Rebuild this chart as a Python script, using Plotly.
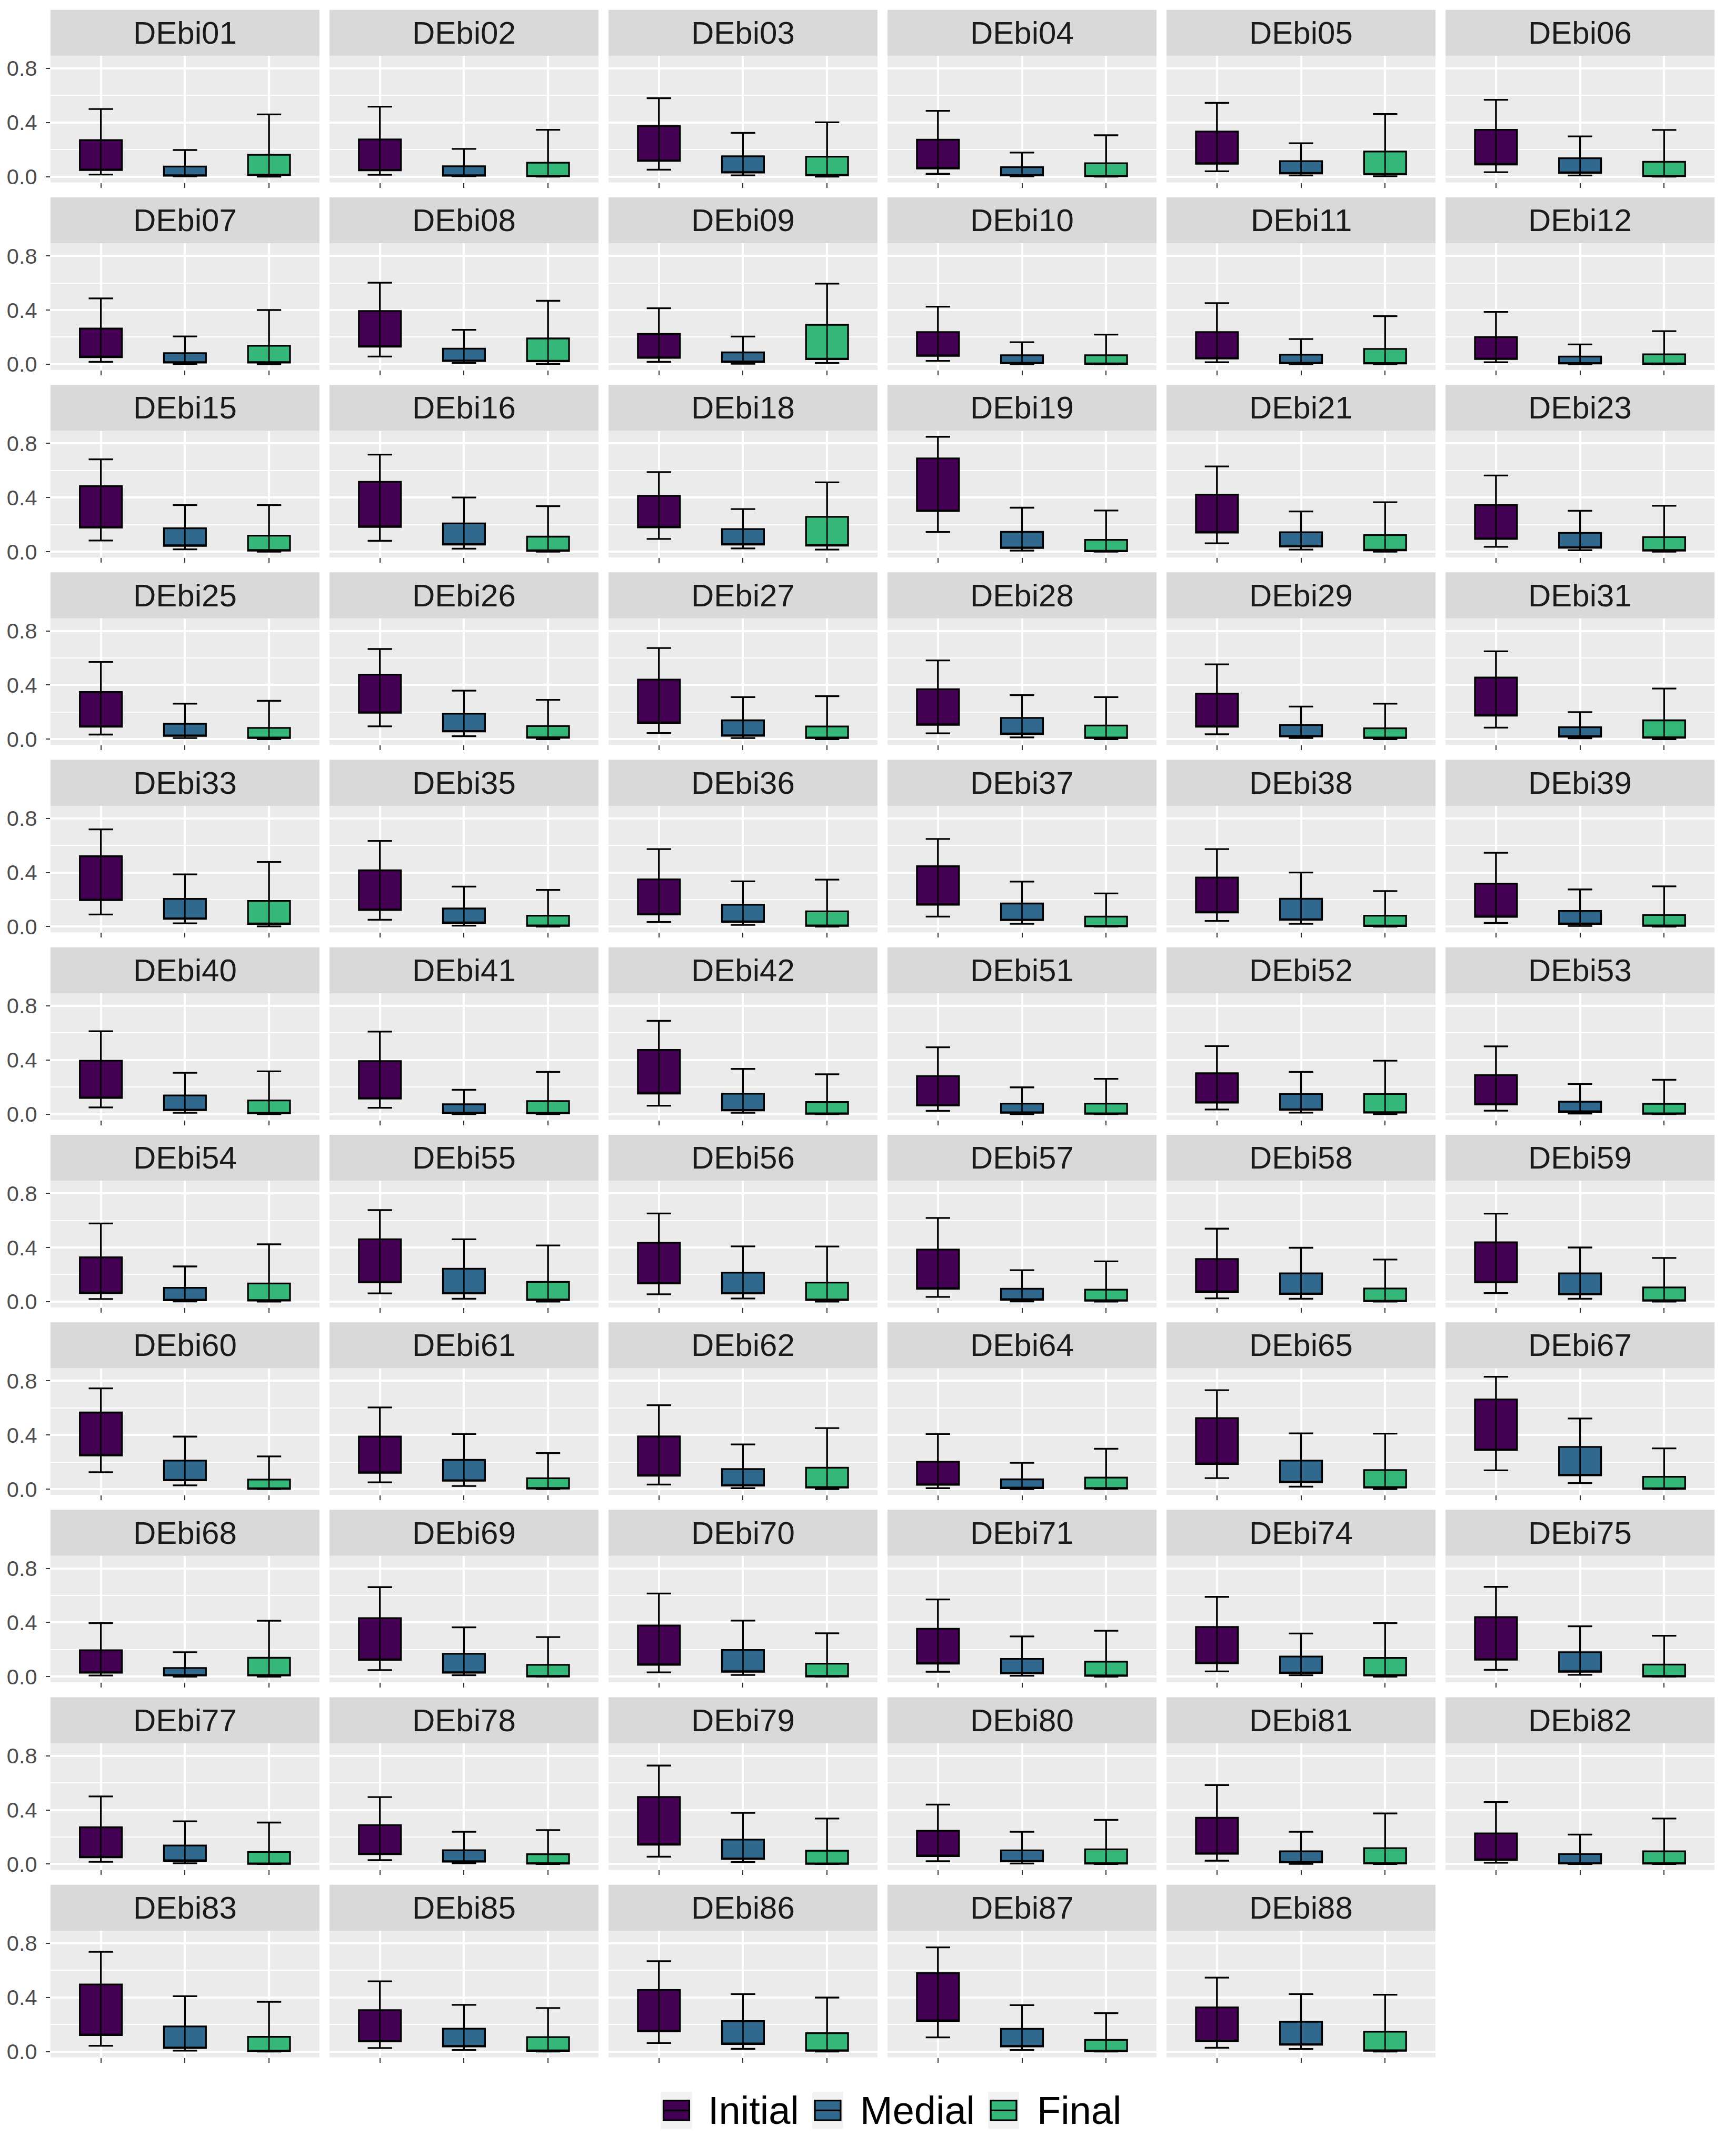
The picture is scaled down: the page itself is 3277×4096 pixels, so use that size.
import plotly.graph_objects as go

# ---------------- data ----------------
panels = ["DEbi01", "DEbi02", "DEbi03", "DEbi04", "DEbi05", "DEbi06",
          "DEbi07", "DEbi08", "DEbi09", "DEbi10", "DEbi11", "DEbi12",
          "DEbi15", "DEbi16", "DEbi18", "DEbi19", "DEbi21", "DEbi23",
          "DEbi25", "DEbi26", "DEbi27", "DEbi28", "DEbi29", "DEbi31",
          "DEbi33", "DEbi35", "DEbi36", "DEbi37", "DEbi38", "DEbi39",
          "DEbi40", "DEbi41", "DEbi42", "DEbi51", "DEbi52", "DEbi53",
          "DEbi54", "DEbi55", "DEbi56", "DEbi57", "DEbi58", "DEbi59",
          "DEbi60", "DEbi61", "DEbi62", "DEbi64", "DEbi65", "DEbi67",
          "DEbi68", "DEbi69", "DEbi70", "DEbi71", "DEbi74", "DEbi75",
          "DEbi77", "DEbi78", "DEbi79", "DEbi80", "DEbi81", "DEbi82",
          "DEbi83", "DEbi85", "DEbi86", "DEbi87", "DEbi88"]

groups = ["Initial", "Medial", "Final"]
group_colors = ["#440154", "#31688E", "#35B779"]

initial_low = [0.016, 0.014, 0.052, 0.021, 0.040, 0.033, 0.017, 0.056, 0.017, 0.024, 0.014, 0.014,
               0.082, 0.080, 0.094, 0.145, 0.062, 0.036, 0.034, 0.095, 0.045, 0.043, 0.036, 0.085,
               0.090, 0.051, 0.034, 0.074, 0.042, 0.027, 0.050, 0.047, 0.062, 0.024, 0.034, 0.025,
               0.019, 0.061, 0.054, 0.035, 0.024, 0.063, 0.125, 0.050, 0.034, 0.007, 0.081, 0.139,
               0.008, 0.048, 0.031, 0.036, 0.038, 0.050, 0.017, 0.029, 0.055, 0.022, 0.025, 0.010,
               0.043, 0.026, 0.063, 0.105, 0.028]
initial_q1 = [0.049, 0.047, 0.117, 0.061, 0.096, 0.090, 0.052, 0.129, 0.047, 0.061, 0.042, 0.038,
              0.178, 0.183, 0.180, 0.300, 0.141, 0.094, 0.092, 0.195, 0.120, 0.106, 0.092, 0.174,
              0.196, 0.123, 0.090, 0.162, 0.104, 0.072, 0.120, 0.115, 0.152, 0.064, 0.085, 0.071,
              0.063, 0.142, 0.134, 0.095, 0.072, 0.142, 0.249, 0.120, 0.099, 0.032, 0.185, 0.289,
              0.029, 0.124, 0.087, 0.096, 0.099, 0.125, 0.050, 0.073, 0.143, 0.059, 0.076, 0.031,
              0.122, 0.075, 0.150, 0.227, 0.078]
initial_q3 = [0.270, 0.275, 0.374, 0.273, 0.334, 0.346, 0.263, 0.393, 0.223, 0.237, 0.237, 0.200,
              0.484, 0.516, 0.413, 0.689, 0.421, 0.344, 0.348, 0.477, 0.440, 0.369, 0.337, 0.455,
              0.520, 0.416, 0.349, 0.446, 0.363, 0.317, 0.395, 0.392, 0.474, 0.281, 0.302, 0.288,
              0.327, 0.461, 0.435, 0.385, 0.315, 0.438, 0.566, 0.388, 0.389, 0.202, 0.525, 0.663,
              0.195, 0.432, 0.378, 0.353, 0.367, 0.440, 0.272, 0.288, 0.496, 0.246, 0.342, 0.227,
              0.496, 0.306, 0.455, 0.580, 0.327]
initial_high = [0.500, 0.517, 0.580, 0.486, 0.545, 0.568, 0.486, 0.602, 0.413, 0.425, 0.451, 0.386,
                0.682, 0.717, 0.588, 0.849, 0.630, 0.563, 0.570, 0.666, 0.673, 0.582, 0.553, 0.649,
                0.719, 0.633, 0.573, 0.648, 0.573, 0.546, 0.612, 0.610, 0.689, 0.494, 0.503, 0.501,
                0.577, 0.676, 0.651, 0.618, 0.539, 0.650, 0.744, 0.603, 0.620, 0.407, 0.731, 0.830,
                0.395, 0.661, 0.614, 0.570, 0.589, 0.663, 0.500, 0.495, 0.728, 0.440, 0.584, 0.458,
                0.737, 0.519, 0.668, 0.770, 0.546]

medial_low = [0.002, 0.003, 0.010, 0.002, 0.009, 0.009, 0.002, 0.009, 0.003, 0.000, 0.000, 0.000,
              0.017, 0.022, 0.024, 0.008, 0.015, 0.011, 0.008, 0.022, 0.008, 0.013, 0.008, 0.006,
              0.025, 0.007, 0.013, 0.021, 0.021, 0.005, 0.010, 0.000, 0.010, 0.000, 0.011, 0.004,
              0.001, 0.021, 0.023, 0.001, 0.021, 0.021, 0.028, 0.023, 0.007, 0.000, 0.018, 0.044,
              0.000, 0.010, 0.012, 0.006, 0.010, 0.013, 0.006, 0.006, 0.015, 0.004, 0.001, 0.000,
              0.007, 0.012, 0.020, 0.012, 0.019]
medial_q1 = [0.007, 0.007, 0.030, 0.009, 0.024, 0.028, 0.012, 0.023, 0.016, 0.007, 0.007, 0.005,
             0.043, 0.052, 0.052, 0.027, 0.038, 0.029, 0.024, 0.057, 0.025, 0.038, 0.020, 0.018,
             0.058, 0.027, 0.035, 0.048, 0.051, 0.020, 0.029, 0.008, 0.027, 0.010, 0.032, 0.017,
             0.010, 0.060, 0.060, 0.014, 0.056, 0.053, 0.065, 0.062, 0.026, 0.007, 0.051, 0.102,
             0.008, 0.029, 0.036, 0.024, 0.027, 0.036, 0.024, 0.018, 0.038, 0.020, 0.013, 0.004,
             0.026, 0.038, 0.056, 0.038, 0.051]
medial_q3 = [0.075, 0.077, 0.151, 0.070, 0.115, 0.136, 0.082, 0.115, 0.087, 0.066, 0.070, 0.056,
             0.173, 0.209, 0.167, 0.146, 0.144, 0.139, 0.113, 0.188, 0.139, 0.157, 0.104, 0.088,
             0.205, 0.134, 0.162, 0.171, 0.206, 0.116, 0.138, 0.073, 0.151, 0.078, 0.149, 0.092,
             0.102, 0.243, 0.214, 0.095, 0.209, 0.209, 0.211, 0.216, 0.148, 0.072, 0.211, 0.312,
             0.064, 0.169, 0.197, 0.131, 0.148, 0.180, 0.137, 0.102, 0.181, 0.101, 0.094, 0.074,
             0.186, 0.169, 0.225, 0.168, 0.220]
medial_high = [0.197, 0.205, 0.324, 0.178, 0.247, 0.298, 0.205, 0.254, 0.204, 0.162, 0.186, 0.146,
               0.344, 0.400, 0.315, 0.325, 0.297, 0.302, 0.262, 0.358, 0.311, 0.325, 0.241, 0.200,
               0.386, 0.296, 0.335, 0.333, 0.400, 0.275, 0.305, 0.180, 0.334, 0.198, 0.312, 0.223,
               0.260, 0.461, 0.408, 0.232, 0.398, 0.400, 0.388, 0.407, 0.330, 0.194, 0.412, 0.522,
               0.180, 0.364, 0.414, 0.297, 0.318, 0.372, 0.316, 0.239, 0.379, 0.239, 0.239, 0.218,
               0.409, 0.345, 0.425, 0.343, 0.425]

final_low = [0.000, 0.000, 0.000, 0.000, 0.003, 0.000, 0.000, 0.002, 0.009, 0.000, 0.000, 0.000,
             0.000, 0.000, 0.015, 0.000, 0.000, 0.000, 0.000, 0.000, 0.000, 0.000, 0.000, 0.000,
             0.002, 0.000, 0.000, 0.000, 0.000, 0.000, 0.000, 0.000, 0.000, 0.000, 0.000, 0.000,
             0.000, 0.000, 0.000, 0.000, 0.000, 0.000, 0.000, 0.000, 0.000, 0.000, 0.000, 0.000,
             0.000, 0.000, 0.000, 0.000, 0.000, 0.000, 0.000, 0.000, 0.000, 0.000, 0.000, 0.000,
             0.000, 0.000, 0.000, 0.000, 0.000]
final_q1 = [0.012, 0.003, 0.010, 0.003, 0.017, 0.003, 0.012, 0.021, 0.037, 0.002, 0.005, 0.002,
            0.008, 0.006, 0.045, 0.003, 0.010, 0.008, 0.008, 0.010, 0.008, 0.008, 0.008, 0.010,
            0.020, 0.005, 0.005, 0.002, 0.004, 0.005, 0.006, 0.006, 0.002, 0.002, 0.011, 0.002,
            0.008, 0.012, 0.012, 0.007, 0.003, 0.007, 0.002, 0.004, 0.011, 0.004, 0.011, 0.002,
            0.008, 0.001, 0.001, 0.005, 0.008, 0.001, 0.001, 0.003, 0.001, 0.003, 0.004, 0.003,
            0.003, 0.005, 0.006, 0.002, 0.006]
final_q3 = [0.162, 0.103, 0.148, 0.099, 0.186, 0.110, 0.136, 0.190, 0.291, 0.066, 0.113, 0.073,
            0.118, 0.111, 0.257, 0.087, 0.122, 0.108, 0.083, 0.097, 0.094, 0.101, 0.080, 0.139,
            0.190, 0.081, 0.113, 0.074, 0.081, 0.086, 0.101, 0.096, 0.089, 0.078, 0.149, 0.076,
            0.134, 0.146, 0.141, 0.088, 0.097, 0.105, 0.071, 0.080, 0.158, 0.085, 0.141, 0.091,
            0.139, 0.087, 0.096, 0.110, 0.138, 0.089, 0.090, 0.073, 0.099, 0.109, 0.118, 0.094,
            0.109, 0.107, 0.136, 0.086, 0.147]
final_high = [0.460, 0.346, 0.402, 0.306, 0.463, 0.345, 0.400, 0.468, 0.595, 0.219, 0.355, 0.244,
              0.344, 0.336, 0.512, 0.304, 0.365, 0.339, 0.283, 0.290, 0.318, 0.311, 0.262, 0.374,
              0.478, 0.271, 0.347, 0.245, 0.263, 0.298, 0.316, 0.312, 0.295, 0.261, 0.395, 0.254,
              0.424, 0.415, 0.407, 0.297, 0.311, 0.323, 0.242, 0.266, 0.451, 0.298, 0.410, 0.301,
              0.413, 0.292, 0.320, 0.339, 0.395, 0.302, 0.307, 0.251, 0.337, 0.327, 0.374, 0.337,
              0.368, 0.322, 0.399, 0.284, 0.420]

y_tickvals = [0.0, 0.4, 0.8]
y_ticktext = ["0.0", "0.4", "0.8"]
y_minor_vals = [0.2, 0.6]

# In the picture the median line sits on the lower hinge of every box,
# so the lower hinge values are used for the median as well.
stats = {
    "Initial": (initial_low, initial_q1, initial_q3, initial_high),
    "Medial": (medial_low, medial_q1, medial_q3, medial_high),
    "Final": (final_low, final_q1, final_q3, final_high),
}

# ---------------- layout geometry (pixels of the 3277x4096 page) ----------------
W, H = 3277, 4096
NCOL = 6
COL_LEFT0, COL_PITCH, PANEL_W = 95.8, 530.06, 511.06
STRIP_TOP0, ROW_PITCH, STRIP_H, PANEL_H = 18.84, 357.33, 87.66, 241.2
FONT = "Liberation Sans, Arial, Helvetica, sans-serif"


def px_x(x):
    return x / W


def px_y(y):
    return 1 - y / H


fig = go.Figure()
shapes = []
annotations = []
layout_axes = {}

for k, name in enumerate(panels):
    r, c = divmod(k, NCOL)
    left = COL_LEFT0 + c * COL_PITCH
    right = left + PANEL_W
    s_top = STRIP_TOP0 + r * ROW_PITCH
    p_top = s_top + STRIP_H
    p_bot = p_top + PANEL_H

    xa = "x" if k == 0 else f"x{k + 1}"
    ya = "y" if k == 0 else f"y{k + 1}"
    xkey = "xaxis" if k == 0 else f"xaxis{k + 1}"
    ykey = "yaxis" if k == 0 else f"yaxis{k + 1}"

    for g, grp in enumerate(groups):
        lo, q1, q3, hi = stats[grp]
        fig.add_trace(go.Box(
            x=[g + 1], q1=[q1[k]], median=[q1[k]], q3=[q3[k]],
            lowerfence=[lo[k]], upperfence=[hi[k]],
            width=0.5, whiskerwidth=0.58,
            fillcolor=group_colors[g],
            line=dict(color="black", width=3.3),
            boxpoints=False, name=grp, showlegend=False, hoverinfo="skip",
            xaxis=xa, yaxis=ya,
        ))
    # whisker line running through the box (drawn on top, like the reference)
    lows = [stats[grp][0][k] for grp in groups]
    highs = [stats[grp][3][k] for grp in groups]
    fig.add_trace(go.Scatter(
        x=[1, 2, 3], y=lows, mode="markers",
        marker=dict(size=1, color="rgba(0,0,0,0)"),
        error_y=dict(type="data", symmetric=False,
                     array=[h - l for h, l in zip(highs, lows)],
                     arrayminus=[0, 0, 0], width=0, thickness=2.6, color="black"),
        showlegend=False, hoverinfo="skip", xaxis=xa, yaxis=ya,
    ))

    layout_axes[xkey] = dict(
        domain=[px_x(left), px_x(right)], anchor=ya,
        range=[0.4, 3.6], tickmode="array", tickvals=[1, 2, 3], ticktext=["", "", ""],
        ticks="outside", ticklen=9, tickwidth=1.8, tickcolor="#333333",
        showgrid=True, gridcolor="white", gridwidth=3.5,
        zeroline=False, showline=False, fixedrange=True,
    )
    layout_axes[ykey] = dict(
        domain=[px_y(p_bot), px_y(p_top)], anchor=xa,
        range=[-0.0425, 0.8925], tickmode="array", tickvals=y_tickvals, ticktext=y_ticktext,
        showticklabels=(c == 0), ticks="outside" if c == 0 else "",
        ticklen=8, tickwidth=1.8, tickcolor="#333333",
        tickfont=dict(size=41.5, color="#4D4D4D", family=FONT),
        ticklabelstandoff=8,
        showgrid=True, gridcolor="white", gridwidth=3.5,
        minor=dict(tickmode="array", tickvals=y_minor_vals, showgrid=True,
                   gridcolor="white", gridwidth=1.7, ticks=""),
        zeroline=False, showline=False, fixedrange=True,
    )

    # facet strip
    shapes.append(dict(type="rect", xref="paper", yref="paper",
                       x0=px_x(left), x1=px_x(right), y0=px_y(p_top), y1=px_y(s_top),
                       fillcolor="#D9D9D9", line=dict(width=0), layer="below"))
    annotations.append(dict(text=name, xref="paper", yref="paper",
                            x=px_x((left + right) / 2), y=px_y(s_top + STRIP_H / 2),
                            xanchor="center", yanchor="middle", showarrow=False,
                            font=dict(size=60, color="#1A1A1A", family=FONT)))

# ---------------- legend (drawn as keys + real text) ----------------
leg_key_left = [1255.5, 1543.0, 1877.1]
leg_text_left = [1343.2, 1632.3, 1968.0]
KEY_W = 58.9
KEY_TOP, KEY_BOT = 3986.9, 4057.3
BOX_TOP, BOX_BOT = 4003.3, 4041.0
MID = (BOX_TOP + BOX_BOT) / 2
for g, grp in enumerate(groups):
    kx0 = leg_key_left[g]
    kx1 = kx0 + KEY_W
    shapes.append(dict(type="rect", xref="paper", yref="paper",
                       x0=px_x(kx0), x1=px_x(kx1), y0=px_y(KEY_BOT), y1=px_y(KEY_TOP),
                       fillcolor="#F2F2F2", line=dict(width=0)))
    shapes.append(dict(type="rect", xref="paper", yref="paper",
                       x0=px_x(kx0 + 5), x1=px_x(kx1 - 5), y0=px_y(BOX_BOT), y1=px_y(BOX_TOP),
                       fillcolor=group_colors[g], line=dict(color="black", width=3.3)))
    shapes.append(dict(type="line", xref="paper", yref="paper",
                       x0=px_x(kx0 + 5), x1=px_x(kx1 - 5), y0=px_y(MID), y1=px_y(MID),
                       line=dict(color="black", width=3.3)))
    annotations.append(dict(text=grp, xref="paper", yref="paper",
                            x=px_x(leg_text_left[g]), y=px_y(MID),
                            xanchor="left", yanchor="middle", showarrow=False,
                            font=dict(size=74, color="black", family=FONT)))

fig.update_layout(
    width=W, height=H, autosize=False,
    margin=dict(l=0, r=0, t=0, b=0, pad=0),
    paper_bgcolor="white", plot_bgcolor="#EBEBEB",
    showlegend=False,
    font=dict(family=FONT),
    shapes=shapes, annotations=annotations,
    **layout_axes,
)

fig.write_html("out.html")
